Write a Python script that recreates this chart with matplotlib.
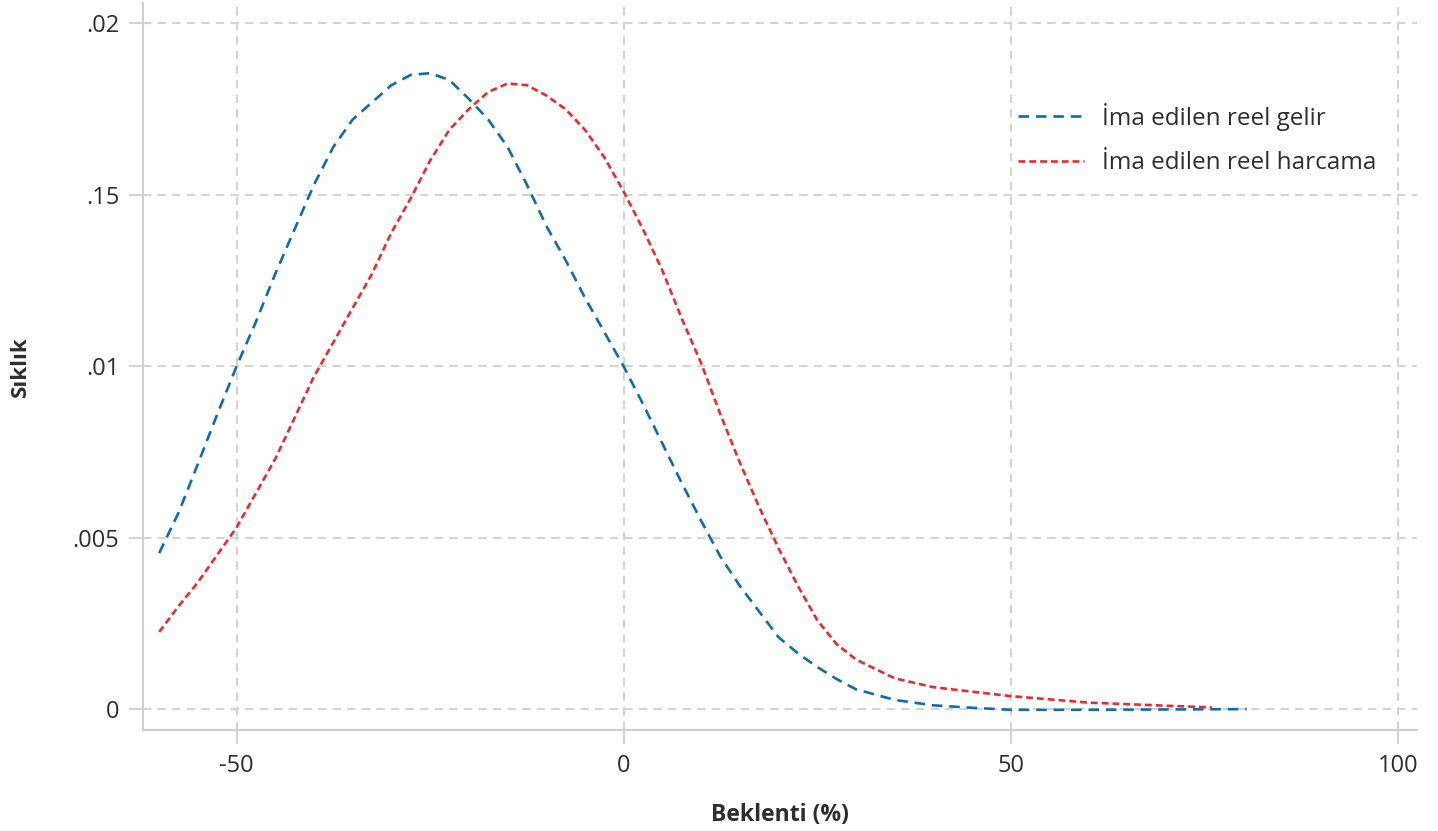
import matplotlib
matplotlib.use("Agg")
import matplotlib.pyplot as plt

# Kernel density
x_gelir = [-60, -57.5, -55, -52.5, -50, -47.5, -45, -42.5, -40, -37.5, -35, -32.5, -30,
           -27.5, -25, -22.5, -20, -17.5, -15, -12.5, -10, -7.5, -5, -2.5, 0,
           2.5, 5, 7.5, 10, 12.5, 15, 17.5, 20, 22.5, 25, 27.5, 30, 35, 40, 45,
           50, 60, 70, 80.5]
y_gelir = [0.00455, 0.00573, 0.00715, 0.0086, 0.0100, 0.0113, 0.0127, 0.0140, 0.0153,
           0.0164, 0.0172, 0.0177, 0.0182, 0.0185, 0.01855, 0.01835, 0.0178, 0.0172,
           0.0164, 0.0153, 0.0141, 0.0131, 0.0120, 0.0110, 0.0100,
           0.0089, 0.00775, 0.0066, 0.0055, 0.00445, 0.0036, 0.00285, 0.0021, 0.00163,
           0.00123, 0.00088, 0.00058, 0.00027, 0.00011, 0.00004,
           -0.00002, -0.00002, -0.00001, 0.0]

x_harcama = [-60, -57.5, -55, -52.5, -50, -47.5, -45, -42.5, -40, -37.5, -35, -32.5, -30,
             -27.5, -25, -22.5, -20, -17.5, -15, -12.5, -10, -7.5, -5, -2.5, 0,
             2.5, 5, 7.5, 10, 12.5, 15, 17.5, 20, 22.5, 25, 27.5, 30, 35, 40, 50,
             60, 70, 76]
y_harcama = [0.00225, 0.0030, 0.0037, 0.0045, 0.0053, 0.0063, 0.0073, 0.0085, 0.0097,
             0.0107, 0.0117, 0.0127, 0.0139, 0.0149, 0.0160, 0.0169, 0.0175, 0.0180,
             0.01825, 0.0182, 0.0179, 0.0175, 0.0169, 0.0161, 0.0151,
             0.0140, 0.0128, 0.0114, 0.0101, 0.0086, 0.0072, 0.0059, 0.0047, 0.0036,
             0.0026, 0.0019, 0.00145, 0.0009, 0.00064, 0.00038,
             0.00019, 0.0001, 0.00005]

labels = ["İma edilen reel gelir", "İma edilen reel harcama"]
xticks = [-50, 0, 50, 100]
yticks = [0, 0.005, 0.01, 0.015, 0.02]
ytick_labels = ["0", ".005", ".01", ".15", ".02"]

plt.rcParams['font.family'] = ['Open Sans', 'DejaVu Sans']
text_color = '#2e2e2e'
grid_color = '#d4d4d4'

fig = plt.figure(figsize=(14.38, 8.31), dpi=100)
ax = fig.add_axes([0.0994, 0.1215, 0.886, 0.875])

ax.plot(x_gelir, y_gelir, color='#0b6db3', linewidth=1.9, dashes=(4, 2.6), label=labels[0])
ax.plot(x_harcama, y_harcama, color='#ee2a2e', linewidth=1.9, dashes=(2.6, 1.5), label=labels[1])

ax.set_xlim(-62.1, 102.5)
ax.set_ylim(-0.00061, 0.0206)
ax.set_xticks(xticks)
ax.set_xticklabels([str(t) for t in xticks])
ax.set_yticks(yticks)
ax.set_yticklabels(ytick_labels)

ax.grid(True, color=grid_color, linestyle=(0, (4, 3)), linewidth=1.5)
ax.set_axisbelow(True)
for side in ['top', 'right']:
    ax.spines[side].set_visible(False)
for side in ['left', 'bottom']:
    ax.spines[side].set_color('#cfcfcf')
    ax.spines[side].set_linewidth(1.5)

ax.tick_params(axis='both', colors=grid_color, length=10, width=1.5,
               labelsize=17, labelcolor=text_color, pad=7)

ax.set_xlabel('Beklenti (%)', fontsize=16.5, fontweight='bold', color=text_color, labelpad=18)
ax.set_ylabel('Sıklık', fontsize=16, fontweight='bold', color=text_color, labelpad=30)

leg = ax.legend(loc='upper right', bbox_to_anchor=(0.9855, 0.893), frameon=False,
                fontsize=17.5, handlelength=2.7, handletextpad=0.75, labelspacing=0.85)
for t in leg.get_texts():
    t.set_color(text_color)

plt.savefig('out.png', dpi=100)
